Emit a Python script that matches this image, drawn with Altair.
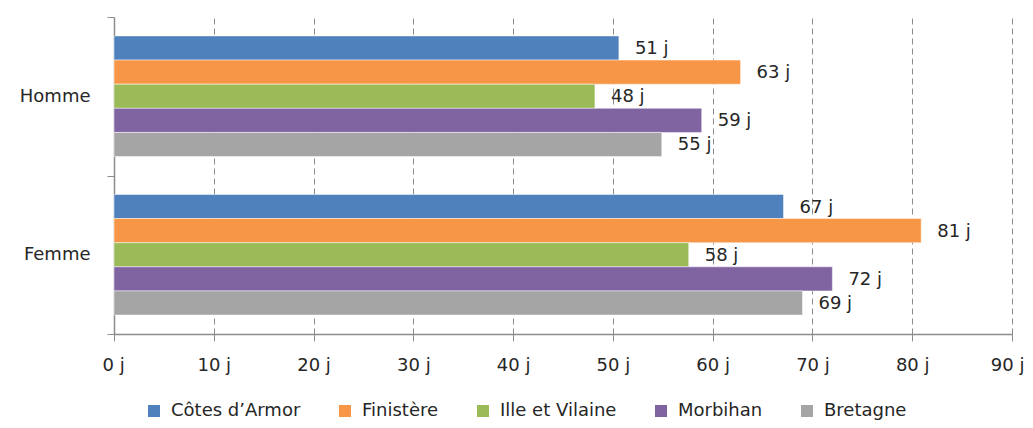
import altair as alt
import pandas as pd

sexes = ["Homme", "Femme"]
regions = ["Côtes d’Armor", "Finistère", "Ille et Vilaine", "Morbihan", "Bretagne"]
colors = ["#4F81BD", "#F79646", "#9BBB59", "#8064A2", "#A5A5A5"]
homme = [50.6, 62.8, 48.2, 58.9, 54.9]
femme = [67.1, 80.9, 57.6, 72.0, 69.0]
x_ticks = [0, 10, 20, 30, 40, 50, 60, 70, 80, 90]

rows = []
for sexe, vals in zip(sexes, [homme, femme]):
    for reg, v in zip(regions, vals):
        rows.append({"Sexe": sexe, "Région": reg, "Jours": v, "Label": f"{round(v)} j"})
df = pd.DataFrame(rows)

FONT = "DejaVu Sans"
TXT = "#262626"

base = alt.Chart(df).encode(
    y=alt.Y("Sexe:N", sort=sexes, title=None,
            scale=alt.Scale(paddingInner=0, paddingOuter=0),
            axis=alt.Axis(tickBand="extent", ticks=True, tickSize=7, tickColor="#8c8c8c",
                          domainColor="#8c8c8c", domainWidth=1.5, labelPadding=17,
                          labelFont=FONT, labelFontSize=18, labelColor=TXT, grid=False)),
    yOffset=alt.YOffset("Région:N", sort=regions,
                        scale=alt.Scale(paddingInner=0, paddingOuter=0.785)),
)

bars = base.mark_bar(stroke="white", strokeWidth=0.8, strokeOpacity=0.6).encode(
    x=alt.X("Jours:Q", title=None,
            scale=alt.Scale(domain=[0, 90], nice=False),
            axis=alt.Axis(values=x_ticks, labelExpr="datum.value + ' j'",
                          grid=True, gridDash=[6, 4], gridColor="#8c8c8c", gridWidth=1,
                          tickSize=7, tickColor="#8c8c8c", domainColor="#8c8c8c", domainWidth=1.5,
                          labelPadding=15, labelFont=FONT, labelFontSize=18, labelColor=TXT,
                          labelFlush=True, labelFlushOffset=12)),
    color=alt.Color("Région:N", sort=regions,
                    scale=alt.Scale(domain=regions, range=colors),
                    legend=alt.Legend(title=None, orient="none", direction="horizontal",
                                      columns=5, legendX=31, legendY=385,
                                      symbolType="square", symbolSize=144, symbolStrokeWidth=0,
                                      labelOffset=8, columnPadding=35,
                                      labelFont=FONT, labelFontSize=18, labelColor=TXT)),
)

labels = base.mark_text(align="left", baseline="middle", dx=16, dy=1,
                        font=FONT, fontSize=18, color=TXT).encode(
    x="Jours:Q",
    text="Label:N",
)

chart = (bars + labels).properties(
    width=898, height=317,
    autosize=alt.AutoSizeParams(type="none"),
    padding={"left": 106, "top": 9, "right": 12, "bottom": 86},
).configure_view(stroke=None)

chart.save("out.html", embed_options={"renderer": "svg", "actions": False})
